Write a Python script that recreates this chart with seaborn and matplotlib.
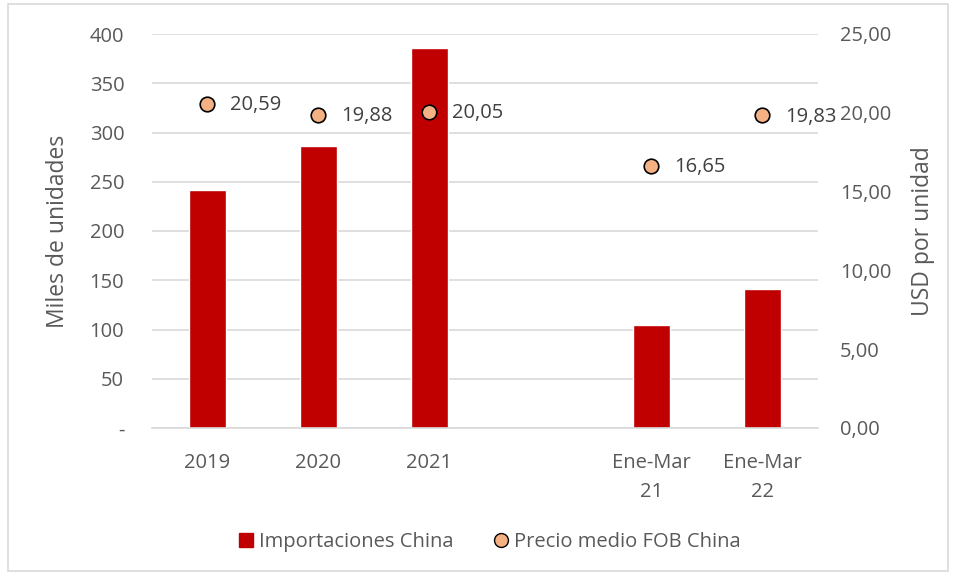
import matplotlib
matplotlib.use("Agg")
import matplotlib.pyplot as plt
import seaborn as sns
import pandas as pd
from matplotlib.patches import Rectangle
from matplotlib.lines import Line2D
from matplotlib.ticker import FixedLocator

categories = ["2019", "2020", "2021", " ", "Ene-Mar\n21", "Ene-Mar\n22"]
bar_cats = ["2019", "2020", "2021", "Ene-Mar\n21", "Ene-Mar\n22"]
importaciones = [242, 286, 386, 105, 141]
precio = [20.59, 19.88, 20.05, 16.65, 19.83]
left_ticks = [0, 50, 100, 150, 200, 250, 300, 350, 400]
left_labels = ["-", "50", "100", "150", "200", "250", "300", "350", "400"]
right_ticks = [0, 5, 10, 15, 20, 25]
right_labels = ["0,00", "5,00", "10,00", "15,00", "20,00", "25,00"]

sns.set_theme(style="white")
plt.rcParams["font.family"] = ["Open Sans", "DejaVu Sans"]
GRAY = "#595959"

df_bar = pd.DataFrame({"cat": bar_cats, "val": importaciones})
df_pt = pd.DataFrame({"cat": bar_cats, "val": precio})

fig = plt.figure(figsize=(9.56, 5.75), dpi=100)
ax = fig.add_axes([152/956, 1-428/575, 666/956, 394/575])

sns.barplot(data=df_bar, x="cat", y="val", order=categories, color="#C00000",
            width=0.33, saturation=1, ax=ax, zorder=2)
ax.set_ylim(0, 400)
ax.set_xlim(-0.5, 5.5)
ax.yaxis.set_major_locator(FixedLocator(left_ticks))
ax.set_yticklabels(left_labels)
ax.grid(axis="y", color="#D9D9D9", linewidth=1.2, zorder=0)
ax.set_axisbelow(True)
for s in ax.spines.values():
    s.set_visible(False)
ax.spines["bottom"].set_visible(True)
ax.spines["bottom"].set_color("#D9D9D9")
ax.spines["bottom"].set_linewidth(1.2)
ax.set_xlabel("")
ax.set_ylabel("Miles de unidades", fontsize=16.5, color=GRAY, labelpad=14)
ax.tick_params(axis="both", labelsize=14.5, colors=GRAY, length=0)
ax.tick_params(axis="y", pad=20)
ax.tick_params(axis="x", pad=18)
for t in ax.get_xticklabels():
    t.set_linespacing(1.6)

ax2 = ax.twinx()
sns.stripplot(data=df_pt, x="cat", y="val", order=categories, jitter=False,
              color="#F4B183", edgecolor="black", linewidth=1.2, size=10.5, ax=ax2, zorder=3)
ax2.set_ylim(0, 25)
ax2.set_xlim(-0.5, 5.5)
ax2.yaxis.set_major_locator(FixedLocator(right_ticks))
ax2.set_yticklabels(right_labels)
for s in ax2.spines.values():
    s.set_visible(False)
ax2.set_ylabel("USD por unidad", fontsize=16.5, color=GRAY, labelpad=14)
ax2.set_xlabel("")
ax2.tick_params(axis="y", labelsize=14.5, colors=GRAY, length=0, pad=16)
ax2.grid(False)

for c, v in zip(bar_cats, precio):
    xi = categories.index(c)
    ax2.annotate(f"{v:.2f}".replace(".", ","), (xi, v), xytext=(16, -1),
                 textcoords="offset points", ha="left", va="center",
                 fontsize=14.5, color="#404040")

handles = [Rectangle((0, 0), 1, 1, color="#C00000"),
           Line2D([], [], marker="o", linestyle="", markerfacecolor="#F4B183",
                  markeredgecolor="black", markersize=10)]
fig.legend(handles, ["Importaciones China", "Precio medio FOB China"],
           loc="center", bbox_to_anchor=(490/956, 1-542/575), ncol=2, frameon=False,
           fontsize=14.5, labelcolor=GRAY, handlelength=0.7, handletextpad=0.3,
           columnspacing=2.0)

fig.patches.append(Rectangle((8/956, 4/575), 1-16/956, 1-8/575, transform=fig.transFigure,
                             fill=False, edgecolor="#D9D9D9", linewidth=1.2))

fig.savefig("out.png", dpi=100)
